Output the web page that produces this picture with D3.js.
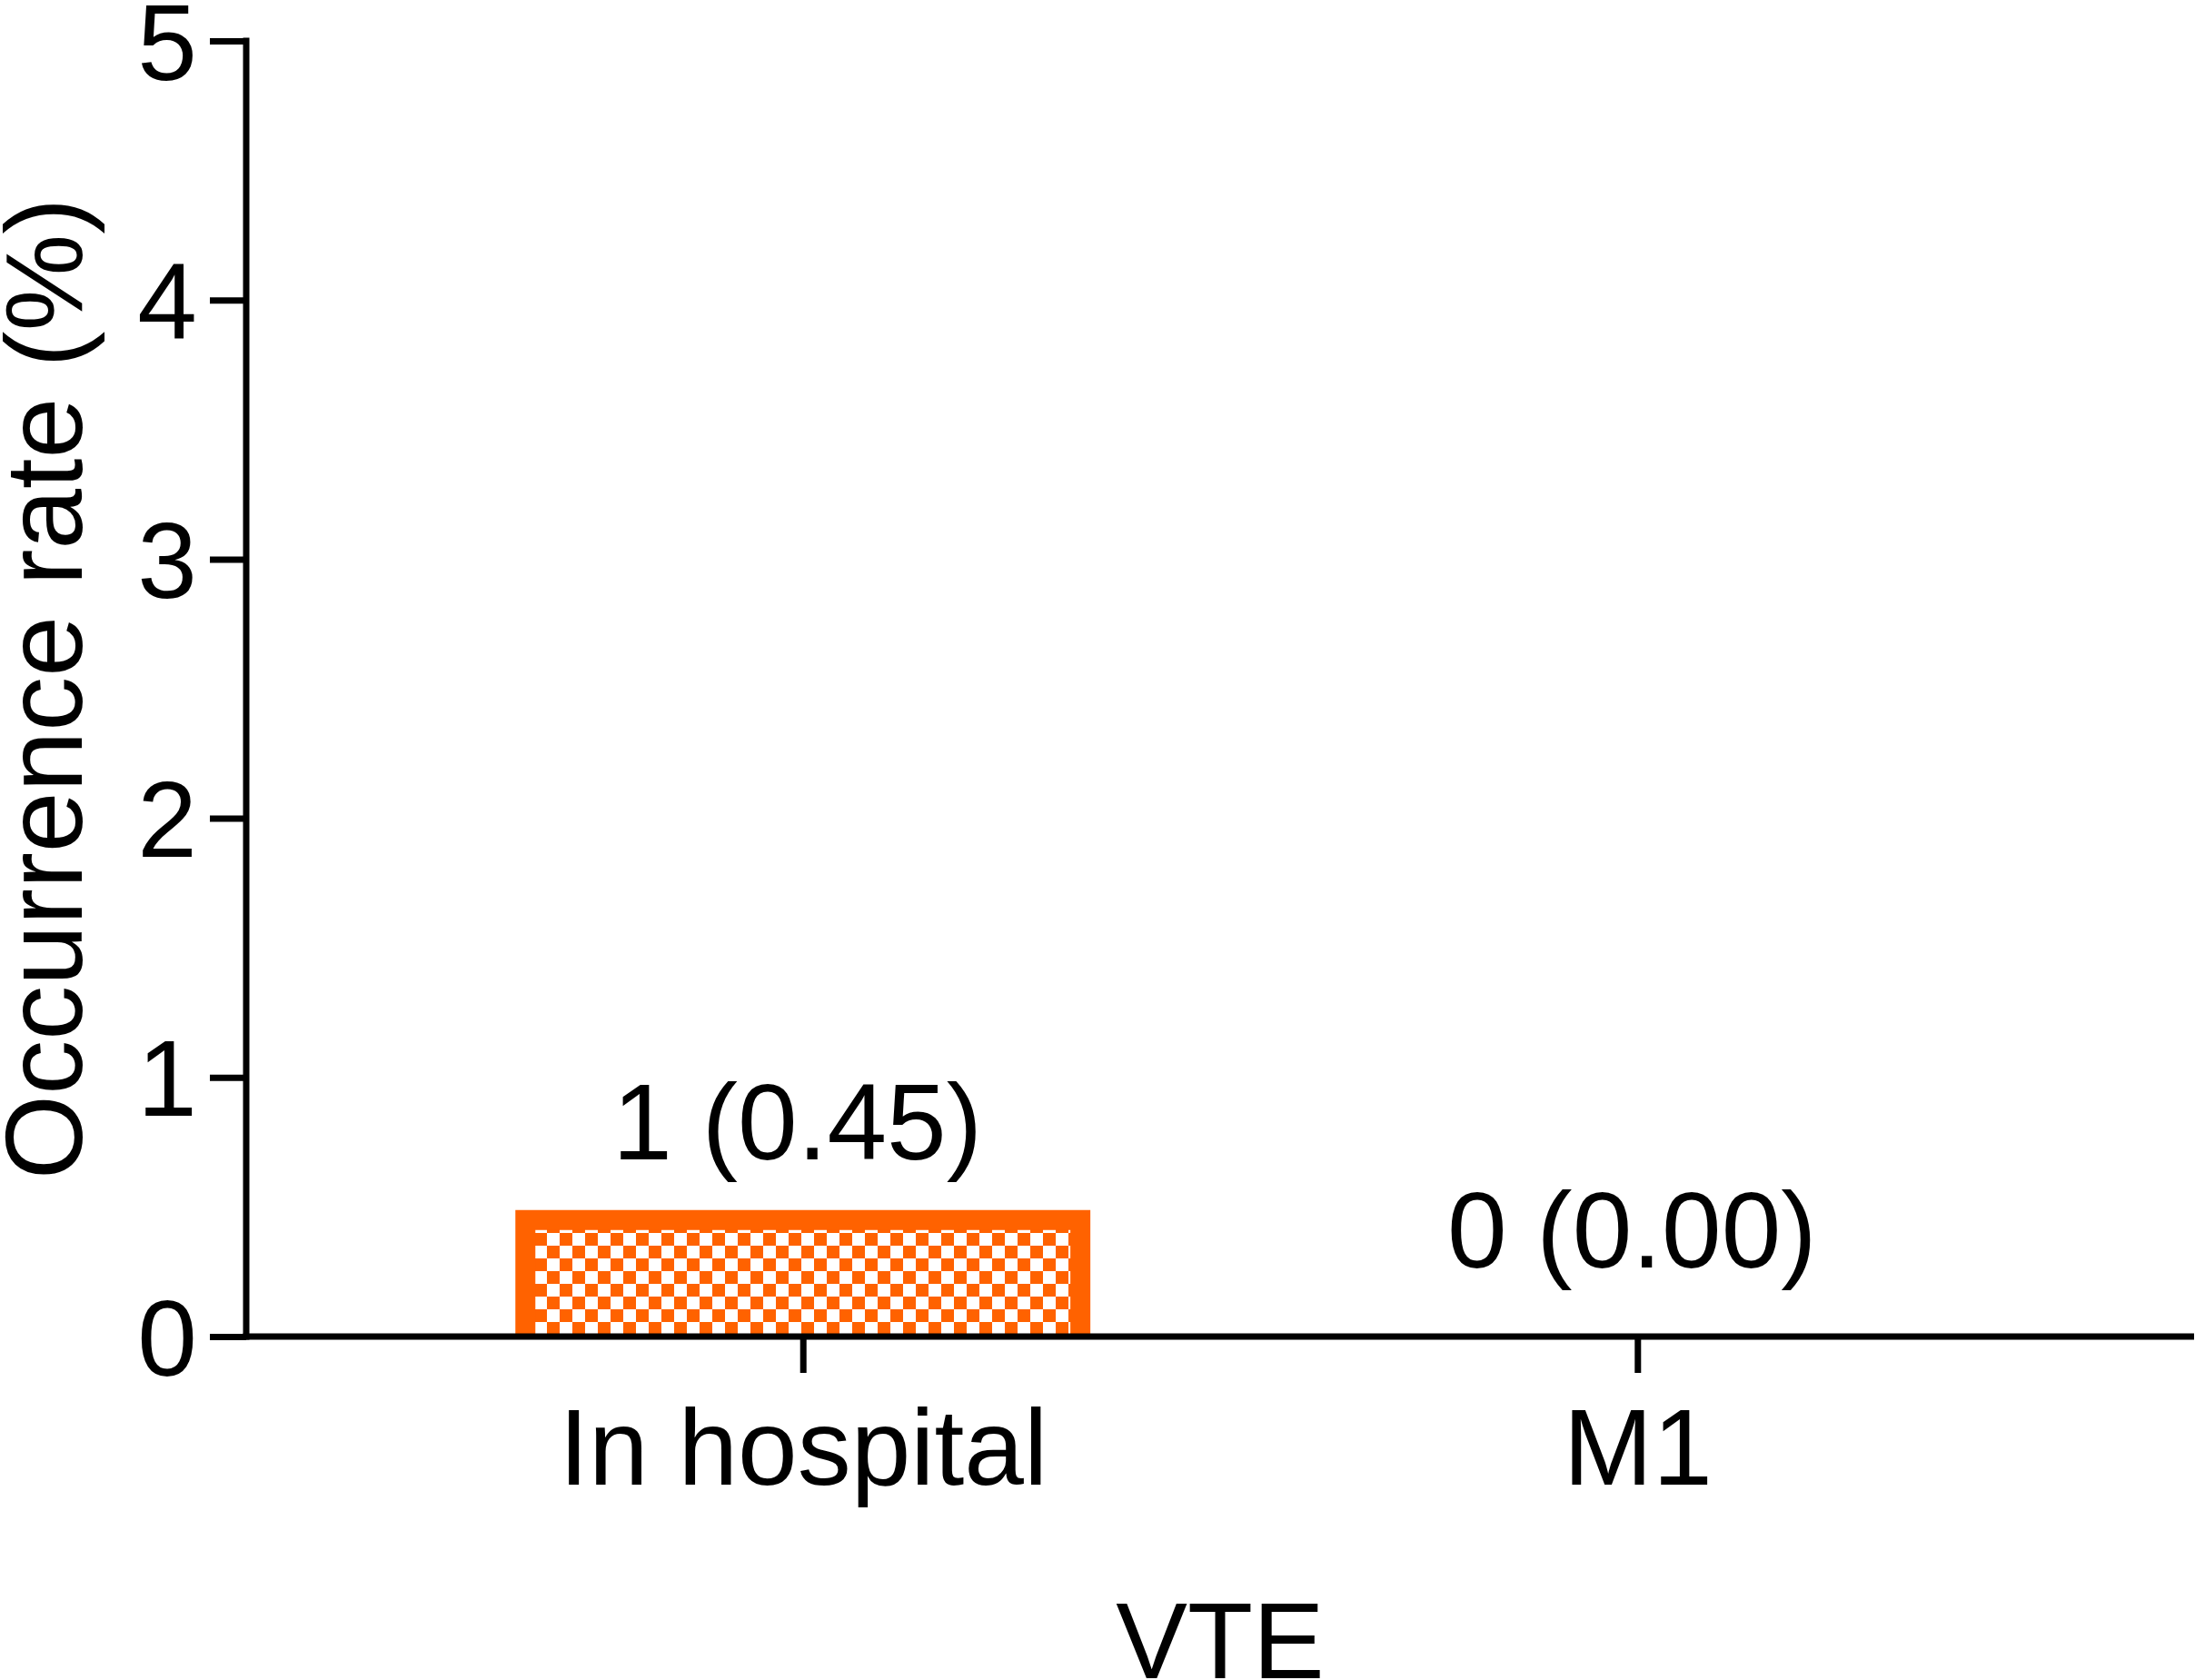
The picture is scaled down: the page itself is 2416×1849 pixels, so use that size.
<!DOCTYPE html>
<html>
<head>
<meta charset="utf-8">
<script src="https://cdn.jsdelivr.net/npm/d3@7"></script>
<style>
  html, body { margin: 0; padding: 0; background: #fff; }
  svg { display: block; }
  text { font-family: "Liberation Sans", Arial, sans-serif; fill: #000; }
</style>
</head>
<body>
<script>
const categories = ["In hospital", "M1"];
const values = [0.45, 0.00];
const valueLabels = ["1 (0.45)", "0 (0.00)"];
const yTicks = [0, 1, 2, 3, 4, 5];
const xTitle = "VTE";
const yTitle = "Occurrence rate (%)";

(function () {
const W = 2416, H = 1849;
const mLeft = 271, mRight = 2415, mTop = 45, mBottom = 1471;
const orange = "#ff6200";
const fs = 118;

const svg = d3.select("body").append("svg").attr("width", W).attr("height", H);

const y = d3.scaleLinear().domain([0, 5]).range([mBottom, mTop]);
const x = d3.scalePoint().domain(categories).range([mLeft, mRight]).padding(0.667);
const step = x.step();
const barW = step * 0.665;

// checker pattern
const cell = 14;
const defs = svg.append("defs");
const pat = defs.append("pattern").attr("id", "checker")
  .attr("patternUnits", "userSpaceOnUse")
  .attr("width", cell * 2).attr("height", cell * 2)
  .attr("x", 588).attr("y", 1357);
pat.append("rect").attr("width", cell * 2).attr("height", cell * 2).attr("fill", "#fff");
pat.append("rect").attr("x", 0).attr("y", 0).attr("width", cell).attr("height", cell).attr("fill", orange);
pat.append("rect").attr("x", cell).attr("y", cell).attr("width", cell).attr("height", cell).attr("fill", orange);

const sw = 22;
const bars = svg.append("g");
categories.forEach((c, i) => {
  if (values[i] <= 0) return;
  const cx = x(c);
  const x0 = cx - barW / 2, x1 = cx + barW / 2;
  const yt = y(values[i]), yb = y(0);
  bars.append("rect").attr("x", x0).attr("y", yt).attr("width", barW).attr("height", yb - yt)
    .attr("fill", "url(#checker)");
  bars.append("path")
    .attr("d", `M${x0},${yb} L${x0},${yt} L${x1},${yt} L${x1},${yb}`)
    .attr("fill", "none").attr("stroke", orange).attr("stroke-width", sw)
    .attr("stroke-linejoin", "miter");
});

// value labels
svg.append("g").selectAll("text").data(categories).join("text")
  .attr("x", (d, i) => x(d) - 6)
  .attr("y", (d, i) => y(values[i]) - (values[i] > 0 ? 67 : 76))
  .attr("text-anchor", "middle")
  .attr("font-size", fs)
  .text((d, i) => valueLabels[i]);

// axes
const yAxis = svg.append("g").attr("transform", `translate(${mLeft},0)`)
  .call(d3.axisLeft(y).tickValues(yTicks).tickFormat(d3.format("d")).tickSize(40).tickSizeOuter(0).tickPadding(14));
const xAxis = svg.append("g").attr("transform", `translate(0,${mBottom})`)
  .call(d3.axisBottom(x).tickSize(40).tickSizeOuter(0).tickPadding(0));

[yAxis, xAxis].forEach(g => {
  g.select(".domain").attr("stroke", "#000").attr("stroke-width", 7);
  g.selectAll(".tick line").attr("stroke", "#000").attr("stroke-width", 7);
  g.selectAll(".tick text").attr("font-size", fs).attr("font-family", "Liberation Sans, Arial, sans-serif").attr("fill", "#000");
});
xAxis.select(".domain").attr("d", `M${mLeft - 3.5},0H${mRight}`);
yAxis.select(".domain").attr("d", `M0,${mTop - 3.5}V${mBottom + 3.5}`);
yAxis.selectAll(".tick text").attr("dy", null).attr("y", 42).attr("x", -54);
xAxis.selectAll(".tick text").attr("dy", null).attr("y", 163);

// titles
svg.append("text").attr("x", (mLeft + mRight) / 2).attr("y", 1847)
  .attr("text-anchor", "middle").attr("font-size", fs).text(xTitle);
svg.append("text")
  .attr("transform", `translate(90,${(mTop + mBottom) / 2}) rotate(-90)`)
  .attr("text-anchor", "middle").attr("font-size", 120).text(yTitle);
})();
</script>
</body>
</html>
